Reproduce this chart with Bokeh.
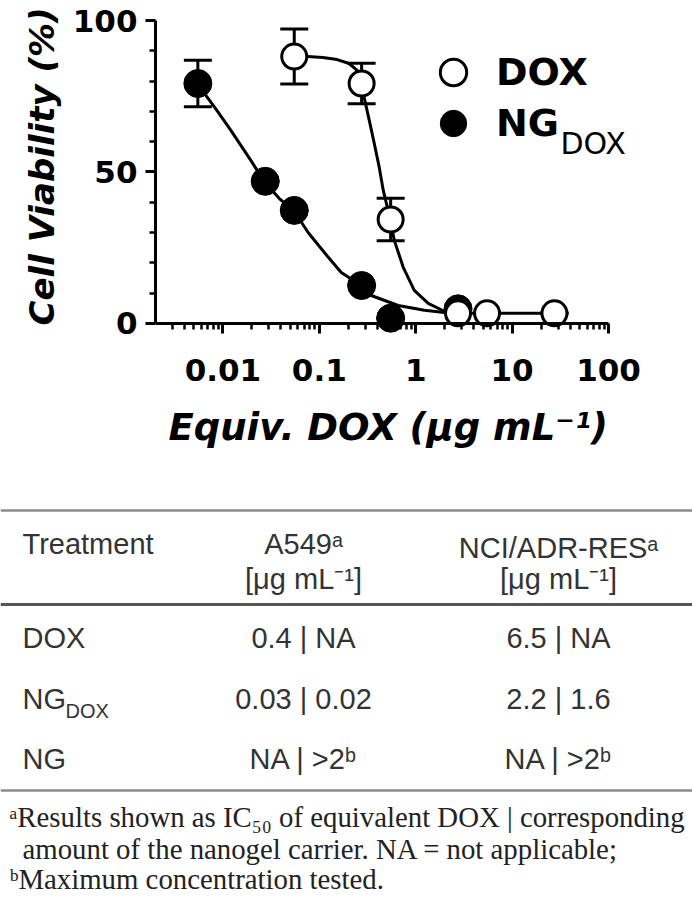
import numpy as np
from bokeh.plotting import figure
from bokeh.models import (ColumnDataSource, Whisker, TeeHead, FixedTicker, Range1d,
                          Label, Legend, LegendItem, Span, LogAxis, Title)
from bokeh.embed import file_html
from bokeh.resources import INLINE
from bokeh.core.properties import value

# ---------------- data ----------------
dox_conc = [0.055, 0.275, 0.55, 2.75, 5.5, 27.5]
dox_viab = [88.1, 79.2, 34.3, 3.3, 3.3, 3.3]
dox_err = [9.1, 6.7, 7.0, 0.0, 0.0, 0.0]

ng_conc = [0.0055, 0.0275, 0.055, 0.275, 0.55, 2.75]
ng_viab = [79.2, 46.9, 37.3, 12.5, 1.7, 4.8]
ng_err = [7.7, 0.0, 0.0, 0.0, 0.0, 0.0]

# fitted curves
dox_fit_conc = [0.055, 0.076, 0.109, 0.153, 0.204, 0.247, 0.272, 0.292, 0.330,
                0.372, 0.419, 0.461, 0.545, 0.600, 0.743, 0.967, 1.35, 1.98, 2.75, 27.5]
dox_fit_viab = [88.1, 88.1, 87.8, 87.1, 85.8, 83.5, 79.2, 74.6, 67.0,
                59.4, 51.5, 43.9, 34.3, 27.4, 18.5, 10.9, 6.6, 4.0, 3.3, 3.3]

ng_fit_conc = [0.0055, 0.00635, 0.00866, 0.0121, 0.0195, 0.0267, 0.0383, 0.055,
               0.0766, 0.124, 0.169, 0.272, 0.346, 0.659, 1.23, 1.98, 2.75]
ng_fit_viab = [79.2, 76.2, 70.3, 63.7, 53.8, 46.9, 41.3, 37.0,
               30.0, 21.8, 16.8, 12.5, 9.2, 5.9, 4.3, 3.6, 3.3]

x_ticks = [0.01, 0.1, 1, 10, 100]
x_tick_labels = ["0.01", "0.1", "1", "10", "100"]
y_ticks = [0, 50, 100]
y_minor = [10, 20, 30, 40, 60, 70, 80, 90]

x_title = "Equiv. DOX (μg mL⁻¹)"
y_title = "Cell Viability (%)"
series_names = ["DOX", "NG"]
series_subscript = "DOX"

table_header = ["Treatment", "A549ᵃ", "NCI/ADR-RESᵃ"]
table_units = ["[μg mL⁻¹]", "[μg mL⁻¹]"]
treatments = ["DOX", "NG", "NG"]
treatment_subs = ["", "DOX", ""]
a549_ic50 = ["0.4 | NA", "0.03 | 0.02", "NA | >2ᵇ"]
ncires_ic50 = ["6.5 | NA", "2.2 | 1.6", "NA | >2ᵇ"]
footnotes = ["ᵃResults shown as IC₅₀ of equivalent DOX | corresponding",
             "amount of the nanogel carrier. NA = not applicable;",
             "ᵇMaximum concentration tested."]

# ---------------- layout constants (page px, page has no margin) ----------------
W = 692
X_LO, X_AX_HI = 0.002, 100.0
Y_LO, Y_HI = -5.0, 100.0
MB_TOP, MB_LEFT, FR_H, MB_BOT = 20, 155, 318, 165
H1 = MB_TOP + FR_H + MB_BOT
FR_L, FR_T = MB_LEFT, MB_TOP
FR_W = W - MB_LEFT
PX_PER_DEC = 96.4
LLO = np.log10(X_LO)
LHI = LLO + FR_W / PX_PER_DEC
X_HI = 10 ** LHI


def px_x(px):
    return 10 ** (LLO + (px - FR_L) / FR_W * (LHI - LLO))


def px_y(py):
    return Y_HI - (py - FR_T) / FR_H * (Y_HI - Y_LO)


x_minor = [m * 10.0 ** e for e in range(-3, 2) for m in range(2, 10)
           if 0.0025 < m * 10.0 ** e < X_AX_HI]

FONT = "DejaVu Sans"

p = figure(width=W, height=H1, x_axis_type="log",
           x_range=Range1d(X_LO, X_HI), y_range=Range1d(Y_LO, Y_HI),
           output_backend="svg", toolbar_location=None,
           min_border_left=MB_LEFT, min_border_right=0,
           min_border_top=MB_TOP, min_border_bottom=MB_BOT)
p.outline_line_color = None
p.grid.visible = False
p.background_fill_color = "white"

# labelled x axis (tick labels only) at the frame bottom
xl = p.xaxis[0]
xl.ticker = FixedTicker(ticks=x_ticks, minor_ticks=[])
xl.major_label_overrides = {t: l for t, l in zip(x_ticks, x_tick_labels)}
xl.bounds = (X_LO, X_AX_HI)
xl.axis_line_color = None
xl.major_tick_line_color = None
xl.minor_tick_line_color = None
xl.major_tick_out = 0
xl.major_tick_in = 0
xl.minor_tick_out = 0
xl.minor_tick_in = 0
xl.major_label_standoff = 20
xl.major_label_text_font = FONT
xl.major_label_text_font_style = "bold"
xl.major_label_text_font_size = "31px"
xl.major_label_text_color = "black"

# x axis line + ticks drawn at y = 0
xf = LogAxis(fixed_location=0, bounds=(X_LO, X_AX_HI),
             ticker=FixedTicker(ticks=x_ticks, minor_ticks=x_minor),
             major_label_overrides={t: "" for t in x_ticks},
             major_label_text_font_size="1px")
p.add_layout(xf, "below")

ya = p.yaxis[0]
ya.ticker = FixedTicker(ticks=y_ticks, minor_ticks=y_minor)
ya.bounds = (0, 100)
ya.major_label_standoff = 8
ya.major_label_text_font = FONT
ya.major_label_text_font_style = "bold"
ya.major_label_text_font_size = "31px"
ya.major_label_text_color = "black"

for ax in (xf, ya):
    ax.axis_line_width = 3
    ax.axis_line_color = "black"
    ax.major_tick_line_width = 3
    ax.minor_tick_line_width = 2.5
    ax.major_tick_line_color = "black"
    ax.minor_tick_line_color = "black"
    ax.major_tick_in = 0
    ax.minor_tick_in = 0
    ax.major_tick_out = 10
    ax.minor_tick_out = 6

# axis titles as side-panel titles (positioned like the reference)
p.add_layout(Title(text=x_title, align="left", offset=168 - FR_L, standoff=40,
                   text_font=FONT, text_font_style="bold italic",
                   text_font_size="37px", text_color="black"), "below")
p.add_layout(Title(text=y_title, align="left", offset=(FR_T + FR_H) - 325, standoff=16,
                   text_font=FONT, text_font_style="bold italic",
                   text_font_size="34px", text_color="black"), "left")

# curves
p.line(dox_fit_conc, dox_fit_viab, line_width=3, line_color="black")
p.line(ng_fit_conc, ng_fit_viab, line_width=3, line_color="black")

src_ng = ColumnDataSource(dict(x=ng_conc, y=ng_viab,
                               upper=[v + e for v, e in zip(ng_viab, ng_err)],
                               lower=[v - e for v, e in zip(ng_viab, ng_err)]))
src_dox = ColumnDataSource(dict(x=dox_conc, y=dox_viab,
                                upper=[v + e for v, e in zip(dox_viab, dox_err)],
                                lower=[v - e for v, e in zip(dox_viab, dox_err)]))

for src in (src_ng, src_dox):
    w = Whisker(source=src, base="x", upper="upper", lower="lower",
                line_width=3, line_color="black", level="underlay",
                upper_head=TeeHead(size=28, line_width=3, line_color="black"),
                lower_head=TeeHead(size=28, line_width=3, line_color="black"))
    p.add_layout(w)

r_ng = p.scatter("x", "y", source=src_ng, size=28, fill_color="black",
                 line_color="black", line_width=1)
r_dox = p.scatter("x", "y", source=src_dox, size=25, fill_color="white",
                  line_color="black", line_width=3)

# legend: one box per entry, glyph centres at page (453, 72) and (453, 123)
GLYPH = 66
for name, rend, cy in ((series_names[0], r_dox, 72), (series_names[1], r_ng, 123)):
    lg = Legend(items=[LegendItem(label=name, renderers=[rend])],
                location=(453 - FR_L - GLYPH // 2, (FR_T + FR_H) - (cy + GLYPH // 2)),
                glyph_width=GLYPH, glyph_height=GLYPH, spacing=0,
                padding=0, margin=0, label_standoff=10,
                border_line_color=None, background_fill_alpha=0,
                label_text_font=FONT, label_text_font_style="bold",
                label_text_font_size="38px", label_text_color="black")
    p.add_layout(lg)

p.add_layout(Label(x=px_x(560), y=px_y(143), text=series_subscript,
                   text_font=FONT, text_font_size="30px", text_color="black",
                   text_align="left", text_baseline="alphabetic"))

# ---------------- table ----------------
T_TOP = H1  # page y of table canvas top
TH = 900 - H1
t = figure(width=W, height=TH, x_range=Range1d(0, W), y_range=Range1d(TH, 0),
           output_backend="svg", toolbar_location=None,
           x_axis_location=None, y_axis_location=None, min_border=0)
t.outline_line_color = None
t.grid.visible = False

for loc, col, lw in ((510, "#8c8c8c", 2.5), (604, "#555555", 3), (790, "#8c8c8c", 2.5)):
    t.add_layout(Span(location=loc - T_TOP, dimension="width", line_color=col, line_width=lw))

col_x = [22, 303, 558]
row_y = [637 - T_TOP, 698 - T_TOP, 758 - T_TOP]

cells = dict(x=[], y=[], text=[], align=[])


def add(txt, x, y, a):
    cells["x"].append(x)
    cells["y"].append(y)
    cells["text"].append(txt)
    cells["align"].append(a)


add(table_header[0], col_x[0], 543 - T_TOP, "left")
add(table_header[1], col_x[1], 543 - T_TOP, "center")
add(table_header[2], col_x[2], 547 - T_TOP, "center")
add(table_units[0], col_x[1], 578 - T_TOP, "center")
add(table_units[1], col_x[2], 578 - T_TOP, "center")
for i in range(3):
    add(treatments[i], col_x[0], row_y[i], "left")
    add(a549_ic50[i], col_x[1], row_y[i], "center")
    add(ncires_ic50[i], col_x[2], row_y[i], "center")

t.text(x="x", y="y", text="text", text_align="align", source=ColumnDataSource(cells),
       text_baseline="middle", text_font=value("Liberation Sans"),
       text_font_size="29px", text_color="#333333")

subs = dict(x=[], y=[], text=[])
for i, s in enumerate(treatment_subs):
    if s:
        subs["x"].append(65)
        subs["y"].append(710 - T_TOP)
        subs["text"].append(s)
t.text(x="x", y="y", text="text", source=ColumnDataSource(subs),
       text_baseline="alphabetic", text_align="left", text_font=value("Liberation Sans"),
       text_font_size="20px", text_color="#333333")

foot = dict(x=[9, 22, 9], y=[816 - T_TOP, 848 - T_TOP, 878 - T_TOP], text=footnotes)
t.text(x="x", y="y", text="text", source=ColumnDataSource(foot),
       text_baseline="middle", text_align="left", text_font=value("Liberation Serif"),
       text_font_size="28.8px", text_color="#222222")

open("out.html", "w").write(file_html((p, t), INLINE))
